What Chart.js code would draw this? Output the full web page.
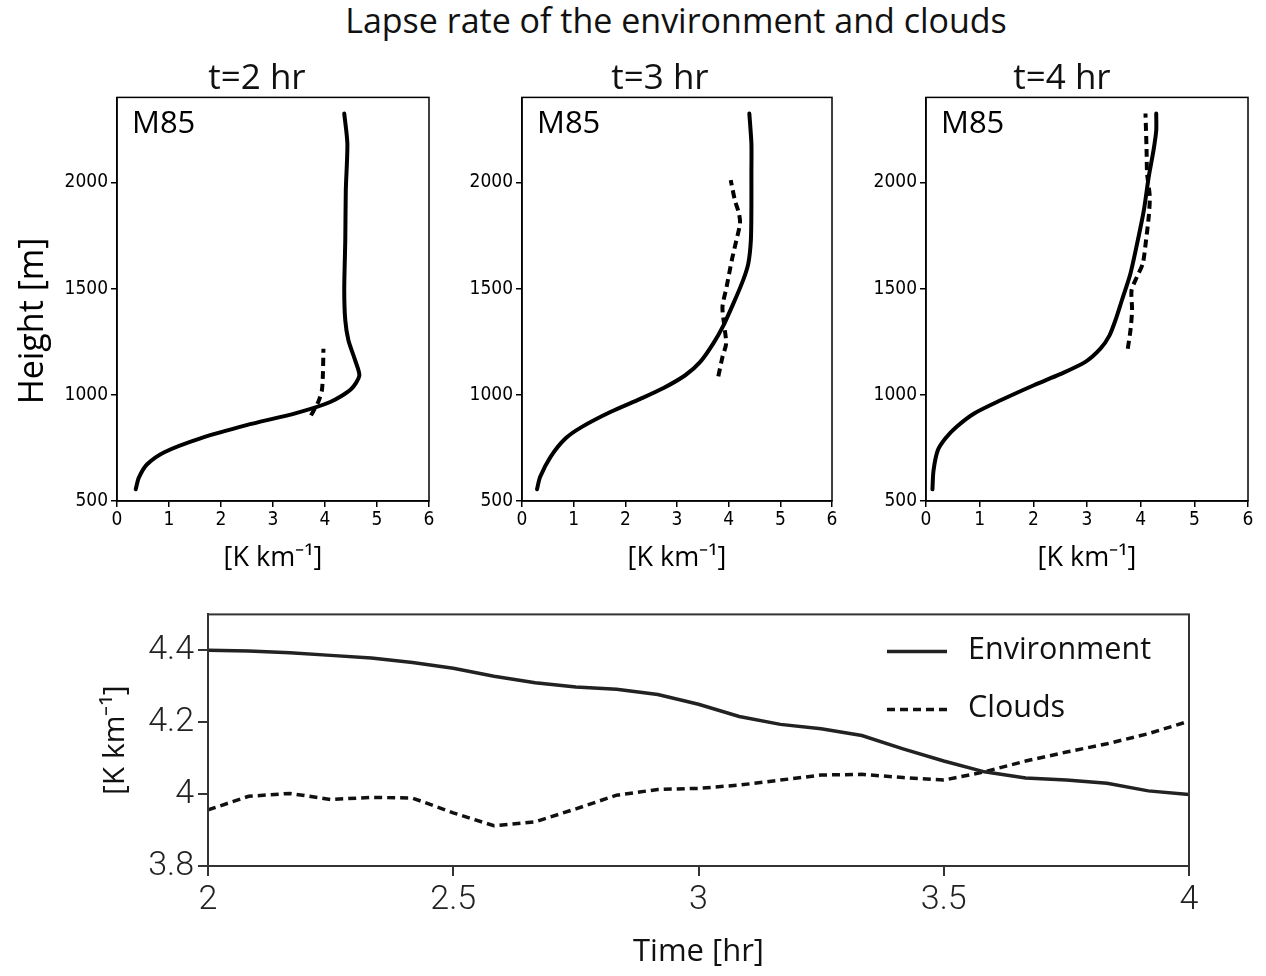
<!DOCTYPE html>
<html>
<head>
<meta charset="utf-8">
<script src="https://cdn.jsdelivr.net/npm/chart.js@4.4.0/dist/chart.umd.min.js"></script>
<style>
body { margin:0; background:#fff; width:1266px; height:976px; overflow:hidden; position:relative; font-family:'Open Sans', sans-serif; }
canvas { position:absolute; }
.ttl { position:absolute; text-align:center; color:#111; line-height:40px; white-space:nowrap; z-index:2; }
.ylab { position:absolute; left:-70px; top:301px; width:200px; text-align:center; line-height:40px; font-size:34px; color:#000; transform:rotate(-90deg); z-index:2; }
</style>
</head>
<body>
<div class="ttl" style="left:0;top:0;width:1352px;font-size:34px">Lapse rate of the environment and clouds</div>
<div class="ttl" style="left:157px;top:56px;width:200px;font-size:35px">t=2 hr</div>
<div class="ttl" style="left:560px;top:56px;width:200px;font-size:35px">t=3 hr</div>
<div class="ttl" style="left:962px;top:56px;width:200px;font-size:35px">t=4 hr</div>
<div class="ylab">Height [m]</div>

<canvas id="p1" width="445" height="502" style="left:0;top:83px"></canvas>
<canvas id="p2" width="403" height="502" style="left:445px;top:83px"></canvas>
<canvas id="p3" width="412" height="502" style="left:848px;top:83px"></canvas>
<canvas id="ts" width="1266" height="386" style="left:0;top:590px"></canvas>

<script>
// profiles: lapse rate [K/km] vs height [m]
let env2X = [0.36, 0.42, 0.58, 0.92, 1.59, 2.49, 3.46, 4.10, 4.50, 4.66, 4.58, 4.45, 4.39, 4.37, 4.39, 4.40, 4.43, 4.37];
let env2H = [555, 610, 673, 731, 794, 857, 915, 966, 1026, 1090, 1162, 1257, 1351, 1492, 1728, 1963, 2183, 2324];
let cld2X = [3.73, 3.87, 3.94, 3.96, 3.97];
let cld2H = [903, 966, 1021, 1100, 1217];

let env3X = [0.29, 0.35, 0.55, 0.84, 1.16, 1.71, 2.29, 2.74, 3.16, 3.45, 3.70, 3.90, 4.09, 4.28, 4.38, 4.43, 4.44, 4.44, 4.44, 4.40];
let env3H = [555, 613, 707, 794, 849, 919, 981, 1032, 1092, 1155, 1241, 1327, 1429, 1540, 1618, 1728, 1885, 2042, 2183, 2324];
let cld3X = [3.80, 3.88, 3.95, 3.91, 3.88, 3.96, 4.06, 4.15, 4.22, 4.20, 4.12, 4.04];
let cld3H = [1087, 1178, 1241, 1335, 1414, 1508, 1633, 1728, 1806, 1853, 1916, 2011];

let env4X = [0.12, 0.14, 0.22, 0.36, 0.55, 0.89, 1.39, 2.01, 2.50, 2.97, 3.25, 3.42, 3.53, 3.65, 3.81, 3.96, 4.06, 4.15, 4.24, 4.29, 4.29];
let env4H = [555, 644, 739, 794, 845, 911, 974, 1045, 1097, 1155, 1217, 1280, 1351, 1445, 1571, 1743, 1869, 2026, 2152, 2245, 2324];
let cld4X = [3.76, 3.81, 3.84, 3.83, 3.93, 4.04, 4.10, 4.15, 4.17, 4.12, 4.11, 4.09];
let cld4H = [1217, 1304, 1398, 1492, 1555, 1618, 1728, 1838, 1932, 2042, 2152, 2324];

let heightTicks = [500, 1000, 1500, 2000];

// time series
let hours = [2.000, 2.083, 2.167, 2.250, 2.333, 2.417, 2.500, 2.583, 2.667, 2.750, 2.833, 2.917, 3.000,
             3.083, 3.167, 3.250, 3.333, 3.417, 3.500, 3.583, 3.667, 3.750, 3.833, 3.917, 4.000];
let envRate = [4.400, 4.398, 4.393, 4.386, 4.379, 4.366, 4.350, 4.328, 4.310, 4.298, 4.292, 4.277, 4.250,
               4.216, 4.194, 4.182, 4.163, 4.126, 4.092, 4.062, 4.045, 4.039, 4.030, 4.009, 3.999];
let cldRate = [3.956, 3.994, 4.002, 3.985, 3.991, 3.989, 3.948, 3.912, 3.923, 3.959, 3.997, 4.013, 4.016,
               4.025, 4.039, 4.053, 4.055, 4.046, 4.039, 4.062, 4.092, 4.117, 4.140, 4.168, 4.203];
let rateTicks = [3.8, 4, 4.2, 4.4];

let unitLabel = '[K km\u207B\u00B9]';

let frame = {
  id: 'frame',
  afterDatasetsDraw(chart, args, opts) {
    let a = chart.chartArea, ctx = chart.ctx;
    ctx.save();
    ctx.strokeStyle = opts.color;
    ctx.lineWidth = opts.width;
    ctx.strokeRect(a.left, a.top, a.right - a.left, a.bottom - a.top);
    ctx.restore();
  }
};

let tag = {
  id: 'tag',
  afterDraw(chart, args, opts) {
    if (!opts.text) return;
    let a = chart.chartArea, ctx = chart.ctx;
    ctx.save();
    ctx.font = '31px "Open Sans"';
    ctx.fillStyle = '#000';
    ctx.textBaseline = 'middle';
    ctx.fillText(opts.text, a.left + 15, a.top + 27);
    ctx.restore();
  }
};

let keyBox = {
  id: 'keyBox',
  afterDraw(chart, args, opts) {
    if (!opts.show) return;
    let a = chart.chartArea, ctx = chart.ctx;
    ctx.save();
    chart.data.datasets.forEach(function(ds, i) {
      let y = a.top + 37 + i * 58;
      ctx.strokeStyle = ds.borderColor;
      ctx.lineWidth = ds.borderWidth;
      ctx.setLineDash(ds.borderDash || []);
      ctx.beginPath();
      ctx.moveTo(a.right - 302, y);
      ctx.lineTo(a.right - 242, y);
      ctx.stroke();
      ctx.setLineDash([]);
      ctx.fillStyle = '#111';
      ctx.font = '30.5px "Open Sans"';
      ctx.textBaseline = 'middle';
      ctx.fillText(ds.label, a.right - 221, y - 1);
    });
    ctx.restore();
  }
};

function pts(xs, ys) {
  return xs.map(function(x, i) { return { x: x, y: ys[i] }; });
}

function fixTicks(list) {
  return function(s) { s.ticks = list.map(function(v) { return { value: v }; }); };
}

function makePanel(id, envX, envH, cldX, cldH, yWidth, padRight) {
  return new Chart(document.getElementById(id), {
    type: 'scatter',
    data: {
      datasets: [
        { label: 'Environment', data: pts(envX, envH), showLine: true, borderColor: '#000', borderWidth: 4,
          pointRadius: 0, tension: 0.25, borderCapStyle: 'round' },
        { label: 'Clouds', data: pts(cldX, cldH), showLine: true, borderColor: '#000', borderWidth: 4,
          borderDash: [8, 5], pointRadius: 0, tension: 0.25 }
      ]
    },
    options: {
      responsive: false,
      animation: false,
      layout: { padding: { top: 10, right: padRight, left: 0, bottom: 0 } },
      plugins: {
        legend: { display: false },
        tooltip: { enabled: false },
        frame: { color: '#000', width: 1.5 },
        tag: { text: 'M85' }
      },
      scales: {
        x: {
          min: 0, max: 6,
          ticks: { stepSize: 1, color: '#000', padding: 2, font: { family: '"Liberation Sans Narrow", "DejaVu Sans Condensed"', size: 19 } },
          grid: { drawOnChartArea: false, drawTicks: true, tickLength: 6, color: '#000', lineWidth: 1.5 },
          border: { color: '#000', width: 1.5 },
          title: { display: true, text: unitLabel, color: '#000', font: { family: '"Open Sans"', size: 27 }, padding: { top: 0, bottom: 10 } },
          afterFit: function(s) { s.height = 84; }
        },
        y: {
          min: 500, max: 2400,
          afterBuildTicks: fixTicks(heightTicks),
          ticks: { color: '#000', padding: 3, callback: function(v) { return String(v); },
                   font: { family: '"Liberation Sans Narrow", "DejaVu Sans Condensed"', size: 19 } },
          grid: { drawOnChartArea: false, drawTicks: true, tickLength: 6, color: '#000', lineWidth: 1.5 },
          border: { color: '#000', width: 1.5 },
          afterFit: function(s) { s.width = yWidth; }
        }
      }
    },
    plugins: [frame, tag]
  });
}

makePanel('p1', env2X, env2H, cld2X, cld2H, 117, 16);
makePanel('p2', env3X, env3H, cld3X, cld3H, 77, 16);
makePanel('p3', env4X, env4H, cld4X, cld4H, 78, 12);

function trimNum(v) { return String(Math.round(v * 10) / 10); }

new Chart(document.getElementById('ts'), {
  type: 'scatter',
  data: {
    datasets: [
      { label: 'Environment', data: pts(hours, envRate), showLine: true, borderColor: '#222', borderWidth: 3.5,
        pointRadius: 0, tension: 0 },
      { label: 'Clouds', data: pts(hours, cldRate), showLine: true, borderColor: '#111', borderWidth: 3.5,
        borderDash: [8, 5], pointRadius: 0, tension: 0 }
    ]
  },
  options: {
    responsive: false,
    animation: false,
    layout: { padding: { top: 23, right: 77, left: 0, bottom: 0 } },
    plugins: {
      legend: { display: false },
      tooltip: { enabled: false },
      frame: { color: '#333', width: 2 },
      keyBox: { show: true }
    },
    scales: {
      x: {
        min: 2, max: 4,
        ticks: { stepSize: 0.5, color: '#222', padding: 4, callback: trimNum, font: { family: 'Roboto', weight: 300, size: 34 } },
        grid: { drawOnChartArea: false, drawTicks: true, tickLength: 10, color: '#333', lineWidth: 2 },
        border: { color: '#333', width: 2 },
        title: { display: true, text: 'Time [hr]', color: '#111', font: { family: '"Open Sans"', size: 31 }, padding: { top: 0, bottom: 5 } },
        afterFit: function(s) { s.height = 110; }
      },
      y: {
        min: 3.8, max: 4.5,
        afterBuildTicks: fixTicks(rateTicks),
        ticks: { color: '#222', padding: 4, callback: trimNum, font: { family: 'Roboto', weight: 300, size: 34 } },
        grid: { drawOnChartArea: false, drawTicks: true, tickLength: 10, color: '#333', lineWidth: 2 },
        border: { color: '#333', width: 2 },
        title: { display: true, text: unitLabel, color: '#111', font: { family: '"Open Sans"', size: 30 }, padding: { top: 97, bottom: 0 } },
        afterFit: function(s) { s.width = 208; }
      }
    }
  },
  plugins: [frame, keyBox]
});
</script>
</body>
</html>
